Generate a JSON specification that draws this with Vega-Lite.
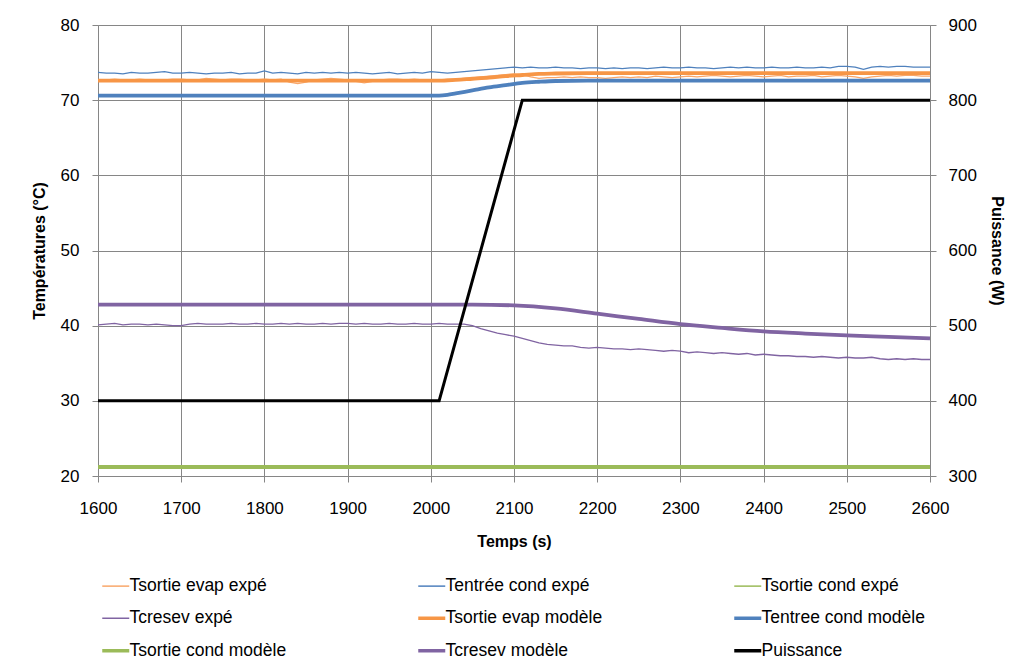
{
  "$schema": "https://vega.github.io/schema/vega-lite/v6.json",
  "autosize": {"type": "none"},
  "width": 832,
  "height": 451,
  "padding": {"left": 98, "top": 25, "right": 86, "bottom": 192},
  "background": "white",
  "config": {
    "font": "Liberation Sans",
    "view": {"stroke": null},
    "axis": {"labelFont": "Liberation Sans", "labelFontSize": 17, "labelColor": "#000000", "titleFont": "Liberation Sans", "titleFontSize": 16, "titleFontWeight": "bold", "titleColor": "#000000", "domainColor": "#868686", "tickColor": "#868686", "gridColor": "#868686", "tickSize": 6}
  },
  "datasets": {
    "expe": [
      {"t":1600,"Tsortie evap expé":72.7,"Tentrée cond expé":73.7,"Tsortie cond expé":21.2,"Tcresev expé":40.1},
      {"t":1610,"Tsortie evap expé":72.7,"Tentrée cond expé":73.6,"Tsortie cond expé":21.2,"Tcresev expé":40.2},
      {"t":1620,"Tsortie evap expé":72.8,"Tentrée cond expé":73.6,"Tsortie cond expé":21.2,"Tcresev expé":40.3},
      {"t":1630,"Tsortie evap expé":72.7,"Tentrée cond expé":73.5,"Tsortie cond expé":21.2,"Tcresev expé":40.1},
      {"t":1640,"Tsortie evap expé":72.7,"Tentrée cond expé":73.7,"Tsortie cond expé":21.2,"Tcresev expé":40.2},
      {"t":1650,"Tsortie evap expé":72.8,"Tentrée cond expé":73.6,"Tsortie cond expé":21.2,"Tcresev expé":40.2},
      {"t":1660,"Tsortie evap expé":72.7,"Tentrée cond expé":73.6,"Tsortie cond expé":21.2,"Tcresev expé":40.1},
      {"t":1670,"Tsortie evap expé":72.6,"Tentrée cond expé":73.7,"Tsortie cond expé":21.2,"Tcresev expé":40.2},
      {"t":1680,"Tsortie evap expé":72.7,"Tentrée cond expé":73.8,"Tsortie cond expé":21.2,"Tcresev expé":40.1},
      {"t":1690,"Tsortie evap expé":72.8,"Tentrée cond expé":73.6,"Tsortie cond expé":21.2,"Tcresev expé":40.0},
      {"t":1700,"Tsortie evap expé":72.8,"Tentrée cond expé":73.6,"Tsortie cond expé":21.2,"Tcresev expé":40.0},
      {"t":1710,"Tsortie evap expé":72.7,"Tentrée cond expé":73.7,"Tsortie cond expé":21.2,"Tcresev expé":40.2},
      {"t":1720,"Tsortie evap expé":72.7,"Tentrée cond expé":73.6,"Tsortie cond expé":21.2,"Tcresev expé":40.3},
      {"t":1730,"Tsortie evap expé":72.9,"Tentrée cond expé":73.5,"Tsortie cond expé":21.2,"Tcresev expé":40.2},
      {"t":1740,"Tsortie evap expé":72.8,"Tentrée cond expé":73.6,"Tsortie cond expé":21.2,"Tcresev expé":40.2},
      {"t":1750,"Tsortie evap expé":72.7,"Tentrée cond expé":73.6,"Tsortie cond expé":21.2,"Tcresev expé":40.2},
      {"t":1760,"Tsortie evap expé":72.8,"Tentrée cond expé":73.7,"Tsortie cond expé":21.2,"Tcresev expé":40.3},
      {"t":1770,"Tsortie evap expé":72.8,"Tentrée cond expé":73.5,"Tsortie cond expé":21.2,"Tcresev expé":40.2},
      {"t":1780,"Tsortie evap expé":72.7,"Tentrée cond expé":73.6,"Tsortie cond expé":21.2,"Tcresev expé":40.2},
      {"t":1790,"Tsortie evap expé":72.7,"Tentrée cond expé":73.6,"Tsortie cond expé":21.2,"Tcresev expé":40.3},
      {"t":1800,"Tsortie evap expé":72.8,"Tentrée cond expé":73.9,"Tsortie cond expé":21.2,"Tcresev expé":40.2},
      {"t":1810,"Tsortie evap expé":72.7,"Tentrée cond expé":73.6,"Tsortie cond expé":21.2,"Tcresev expé":40.2},
      {"t":1820,"Tsortie evap expé":72.8,"Tentrée cond expé":73.7,"Tsortie cond expé":21.2,"Tcresev expé":40.3},
      {"t":1830,"Tsortie evap expé":72.4,"Tentrée cond expé":73.6,"Tsortie cond expé":21.2,"Tcresev expé":40.2},
      {"t":1840,"Tsortie evap expé":72.2,"Tentrée cond expé":73.5,"Tsortie cond expé":21.2,"Tcresev expé":40.3},
      {"t":1850,"Tsortie evap expé":72.4,"Tentrée cond expé":73.7,"Tsortie cond expé":21.2,"Tcresev expé":40.2},
      {"t":1860,"Tsortie evap expé":72.7,"Tentrée cond expé":73.6,"Tsortie cond expé":21.2,"Tcresev expé":40.2},
      {"t":1870,"Tsortie evap expé":72.8,"Tentrée cond expé":73.7,"Tsortie cond expé":21.2,"Tcresev expé":40.3},
      {"t":1880,"Tsortie evap expé":72.9,"Tentrée cond expé":73.6,"Tsortie cond expé":21.2,"Tcresev expé":40.2},
      {"t":1890,"Tsortie evap expé":72.8,"Tentrée cond expé":73.7,"Tsortie cond expé":21.2,"Tcresev expé":40.3},
      {"t":1900,"Tsortie evap expé":72.7,"Tentrée cond expé":73.6,"Tsortie cond expé":21.2,"Tcresev expé":40.3},
      {"t":1910,"Tsortie evap expé":72.5,"Tentrée cond expé":73.7,"Tsortie cond expé":21.2,"Tcresev expé":40.2},
      {"t":1920,"Tsortie evap expé":72.3,"Tentrée cond expé":73.6,"Tsortie cond expé":21.2,"Tcresev expé":40.3},
      {"t":1930,"Tsortie evap expé":72.5,"Tentrée cond expé":73.5,"Tsortie cond expé":21.2,"Tcresev expé":40.2},
      {"t":1940,"Tsortie evap expé":72.7,"Tentrée cond expé":73.6,"Tsortie cond expé":21.2,"Tcresev expé":40.2},
      {"t":1950,"Tsortie evap expé":72.8,"Tentrée cond expé":73.7,"Tsortie cond expé":21.2,"Tcresev expé":40.3},
      {"t":1960,"Tsortie evap expé":72.8,"Tentrée cond expé":73.5,"Tsortie cond expé":21.2,"Tcresev expé":40.2},
      {"t":1970,"Tsortie evap expé":72.7,"Tentrée cond expé":73.6,"Tsortie cond expé":21.2,"Tcresev expé":40.2},
      {"t":1980,"Tsortie evap expé":72.8,"Tentrée cond expé":73.7,"Tsortie cond expé":21.2,"Tcresev expé":40.3},
      {"t":1990,"Tsortie evap expé":72.7,"Tentrée cond expé":73.6,"Tsortie cond expé":21.2,"Tcresev expé":40.2},
      {"t":2000,"Tsortie evap expé":72.7,"Tentrée cond expé":73.8,"Tsortie cond expé":21.2,"Tcresev expé":40.2},
      {"t":2010,"Tsortie evap expé":72.7,"Tentrée cond expé":73.7,"Tsortie cond expé":21.2,"Tcresev expé":40.3},
      {"t":2020,"Tsortie evap expé":72.8,"Tentrée cond expé":73.6,"Tsortie cond expé":21.2,"Tcresev expé":40.2},
      {"t":2030,"Tsortie evap expé":72.8,"Tentrée cond expé":73.7,"Tsortie cond expé":21.2,"Tcresev expé":40.2},
      {"t":2040,"Tsortie evap expé":72.9,"Tentrée cond expé":73.8,"Tsortie cond expé":21.2,"Tcresev expé":40.2},
      {"t":2050,"Tsortie evap expé":73.0,"Tentrée cond expé":73.9,"Tsortie cond expé":21.2,"Tcresev expé":40.0},
      {"t":2060,"Tsortie evap expé":73.1,"Tentrée cond expé":74.0,"Tsortie cond expé":21.2,"Tcresev expé":39.6},
      {"t":2070,"Tsortie evap expé":73.2,"Tentrée cond expé":74.1,"Tsortie cond expé":21.2,"Tcresev expé":39.3},
      {"t":2080,"Tsortie evap expé":73.3,"Tentrée cond expé":74.2,"Tsortie cond expé":21.2,"Tcresev expé":39.0},
      {"t":2090,"Tsortie evap expé":73.4,"Tentrée cond expé":74.3,"Tsortie cond expé":21.2,"Tcresev expé":38.8},
      {"t":2100,"Tsortie evap expé":73.5,"Tentrée cond expé":74.4,"Tsortie cond expé":21.2,"Tcresev expé":38.6},
      {"t":2110,"Tsortie evap expé":73.4,"Tentrée cond expé":74.3,"Tsortie cond expé":21.2,"Tcresev expé":38.3},
      {"t":2120,"Tsortie evap expé":73.1,"Tentrée cond expé":74.4,"Tsortie cond expé":21.2,"Tcresev expé":38.0},
      {"t":2130,"Tsortie evap expé":72.9,"Tentrée cond expé":74.3,"Tsortie cond expé":21.2,"Tcresev expé":37.7},
      {"t":2140,"Tsortie evap expé":73.0,"Tentrée cond expé":74.3,"Tsortie cond expé":21.2,"Tcresev expé":37.5},
      {"t":2150,"Tsortie evap expé":73.0,"Tentrée cond expé":74.4,"Tsortie cond expé":21.2,"Tcresev expé":37.4},
      {"t":2160,"Tsortie evap expé":73.1,"Tentrée cond expé":74.3,"Tsortie cond expé":21.2,"Tcresev expé":37.3},
      {"t":2170,"Tsortie evap expé":73.0,"Tentrée cond expé":74.3,"Tsortie cond expé":21.2,"Tcresev expé":37.3},
      {"t":2180,"Tsortie evap expé":73.1,"Tentrée cond expé":74.2,"Tsortie cond expé":21.2,"Tcresev expé":37.1},
      {"t":2190,"Tsortie evap expé":73.0,"Tentrée cond expé":74.3,"Tsortie cond expé":21.2,"Tcresev expé":37.0},
      {"t":2200,"Tsortie evap expé":73.0,"Tentrée cond expé":74.3,"Tsortie cond expé":21.2,"Tcresev expé":37.1},
      {"t":2210,"Tsortie evap expé":72.9,"Tentrée cond expé":74.2,"Tsortie cond expé":21.3,"Tcresev expé":37.0},
      {"t":2220,"Tsortie evap expé":73.0,"Tentrée cond expé":74.3,"Tsortie cond expé":21.3,"Tcresev expé":36.9},
      {"t":2230,"Tsortie evap expé":73.1,"Tentrée cond expé":74.2,"Tsortie cond expé":21.3,"Tcresev expé":36.9},
      {"t":2240,"Tsortie evap expé":73.0,"Tentrée cond expé":74.3,"Tsortie cond expé":21.3,"Tcresev expé":36.8},
      {"t":2250,"Tsortie evap expé":73.1,"Tentrée cond expé":74.3,"Tsortie cond expé":21.2,"Tcresev expé":36.9},
      {"t":2260,"Tsortie evap expé":73.0,"Tentrée cond expé":74.2,"Tsortie cond expé":21.2,"Tcresev expé":36.8},
      {"t":2270,"Tsortie evap expé":73.2,"Tentrée cond expé":74.3,"Tsortie cond expé":21.2,"Tcresev expé":36.7},
      {"t":2280,"Tsortie evap expé":73.1,"Tentrée cond expé":74.4,"Tsortie cond expé":21.2,"Tcresev expé":36.6},
      {"t":2290,"Tsortie evap expé":73.0,"Tentrée cond expé":74.3,"Tsortie cond expé":21.2,"Tcresev expé":36.7},
      {"t":2300,"Tsortie evap expé":73.1,"Tentrée cond expé":74.3,"Tsortie cond expé":21.2,"Tcresev expé":36.6},
      {"t":2310,"Tsortie evap expé":73.2,"Tentrée cond expé":74.4,"Tsortie cond expé":21.2,"Tcresev expé":36.4},
      {"t":2320,"Tsortie evap expé":73.1,"Tentrée cond expé":74.3,"Tsortie cond expé":21.2,"Tcresev expé":36.5},
      {"t":2330,"Tsortie evap expé":73.2,"Tentrée cond expé":74.3,"Tsortie cond expé":21.2,"Tcresev expé":36.4},
      {"t":2340,"Tsortie evap expé":73.3,"Tentrée cond expé":74.2,"Tsortie cond expé":21.2,"Tcresev expé":36.3},
      {"t":2350,"Tsortie evap expé":73.2,"Tentrée cond expé":74.3,"Tsortie cond expé":21.2,"Tcresev expé":36.4},
      {"t":2360,"Tsortie evap expé":73.1,"Tentrée cond expé":74.4,"Tsortie cond expé":21.2,"Tcresev expé":36.3},
      {"t":2370,"Tsortie evap expé":73.2,"Tentrée cond expé":74.3,"Tsortie cond expé":21.2,"Tcresev expé":36.2},
      {"t":2380,"Tsortie evap expé":73.3,"Tentrée cond expé":74.4,"Tsortie cond expé":21.2,"Tcresev expé":36.3},
      {"t":2390,"Tsortie evap expé":73.2,"Tentrée cond expé":74.3,"Tsortie cond expé":21.2,"Tcresev expé":36.1},
      {"t":2400,"Tsortie evap expé":73.1,"Tentrée cond expé":74.3,"Tsortie cond expé":21.2,"Tcresev expé":36.2},
      {"t":2410,"Tsortie evap expé":73.2,"Tentrée cond expé":74.4,"Tsortie cond expé":21.2,"Tcresev expé":36.1},
      {"t":2420,"Tsortie evap expé":73.3,"Tentrée cond expé":74.3,"Tsortie cond expé":21.2,"Tcresev expé":36.0},
      {"t":2430,"Tsortie evap expé":73.1,"Tentrée cond expé":74.3,"Tsortie cond expé":21.2,"Tcresev expé":36.0},
      {"t":2440,"Tsortie evap expé":73.2,"Tentrée cond expé":74.4,"Tsortie cond expé":21.2,"Tcresev expé":35.9},
      {"t":2450,"Tsortie evap expé":73.2,"Tentrée cond expé":74.3,"Tsortie cond expé":21.2,"Tcresev expé":35.9},
      {"t":2460,"Tsortie evap expé":73.3,"Tentrée cond expé":74.3,"Tsortie cond expé":21.2,"Tcresev expé":35.8},
      {"t":2470,"Tsortie evap expé":73.1,"Tentrée cond expé":74.4,"Tsortie cond expé":21.2,"Tcresev expé":35.9},
      {"t":2480,"Tsortie evap expé":73.2,"Tentrée cond expé":74.3,"Tsortie cond expé":21.2,"Tcresev expé":35.8},
      {"t":2490,"Tsortie evap expé":73.3,"Tentrée cond expé":74.5,"Tsortie cond expé":21.2,"Tcresev expé":35.7},
      {"t":2500,"Tsortie evap expé":73.2,"Tentrée cond expé":74.5,"Tsortie cond expé":21.2,"Tcresev expé":35.8},
      {"t":2510,"Tsortie evap expé":73.1,"Tentrée cond expé":74.4,"Tsortie cond expé":21.2,"Tcresev expé":35.7},
      {"t":2520,"Tsortie evap expé":72.9,"Tentrée cond expé":74.1,"Tsortie cond expé":21.2,"Tcresev expé":35.7},
      {"t":2530,"Tsortie evap expé":73.1,"Tentrée cond expé":74.4,"Tsortie cond expé":21.2,"Tcresev expé":35.8},
      {"t":2540,"Tsortie evap expé":73.2,"Tentrée cond expé":74.5,"Tsortie cond expé":21.2,"Tcresev expé":35.6},
      {"t":2550,"Tsortie evap expé":73.3,"Tentrée cond expé":74.4,"Tsortie cond expé":21.2,"Tcresev expé":35.5},
      {"t":2560,"Tsortie evap expé":73.2,"Tentrée cond expé":74.5,"Tsortie cond expé":21.2,"Tcresev expé":35.6},
      {"t":2570,"Tsortie evap expé":73.3,"Tentrée cond expé":74.5,"Tsortie cond expé":21.2,"Tcresev expé":35.5},
      {"t":2580,"Tsortie evap expé":73.3,"Tentrée cond expé":74.4,"Tsortie cond expé":21.2,"Tcresev expé":35.6},
      {"t":2590,"Tsortie evap expé":73.2,"Tentrée cond expé":74.4,"Tsortie cond expé":21.2,"Tcresev expé":35.5},
      {"t":2600,"Tsortie evap expé":73.2,"Tentrée cond expé":74.4,"Tsortie cond expé":21.2,"Tcresev expé":35.5}
    ],
    "modele": [
      {"t":1600,"serie":"Tsortie evap modèle","v":72.6},
      {"t":2010,"serie":"Tsortie evap modèle","v":72.6},
      {"t":2030,"serie":"Tsortie evap modèle","v":72.7},
      {"t":2050,"serie":"Tsortie evap modèle","v":72.85},
      {"t":2070,"serie":"Tsortie evap modèle","v":73.0},
      {"t":2090,"serie":"Tsortie evap modèle","v":73.2},
      {"t":2110,"serie":"Tsortie evap modèle","v":73.35},
      {"t":2130,"serie":"Tsortie evap modèle","v":73.5},
      {"t":2150,"serie":"Tsortie evap modèle","v":73.55},
      {"t":2200,"serie":"Tsortie evap modèle","v":73.6},
      {"t":2600,"serie":"Tsortie evap modèle","v":73.6},
      {"t":1600,"serie":"Tentree cond modèle","v":70.6},
      {"t":2010,"serie":"Tentree cond modèle","v":70.6},
      {"t":2020,"serie":"Tentree cond modèle","v":70.7},
      {"t":2030,"serie":"Tentree cond modèle","v":70.9},
      {"t":2050,"serie":"Tentree cond modèle","v":71.3},
      {"t":2070,"serie":"Tentree cond modèle","v":71.7},
      {"t":2090,"serie":"Tentree cond modèle","v":72.0},
      {"t":2110,"serie":"Tentree cond modèle","v":72.3},
      {"t":2130,"serie":"Tentree cond modèle","v":72.45},
      {"t":2150,"serie":"Tentree cond modèle","v":72.55},
      {"t":2200,"serie":"Tentree cond modèle","v":72.6},
      {"t":2600,"serie":"Tentree cond modèle","v":72.6},
      {"t":1600,"serie":"Tsortie cond modèle","v":21.2},
      {"t":2600,"serie":"Tsortie cond modèle","v":21.2},
      {"t":1600,"serie":"Tcresev modèle","v":42.8},
      {"t":2050,"serie":"Tcresev modèle","v":42.8},
      {"t":2100,"serie":"Tcresev modèle","v":42.7},
      {"t":2150,"serie":"Tcresev modèle","v":42.3},
      {"t":2200,"serie":"Tcresev modèle","v":41.6},
      {"t":2250,"serie":"Tcresev modèle","v":40.9},
      {"t":2300,"serie":"Tcresev modèle","v":40.2},
      {"t":2350,"serie":"Tcresev modèle","v":39.7},
      {"t":2400,"serie":"Tcresev modèle","v":39.25},
      {"t":2450,"serie":"Tcresev modèle","v":38.95},
      {"t":2500,"serie":"Tcresev modèle","v":38.7},
      {"t":2550,"serie":"Tcresev modèle","v":38.5},
      {"t":2600,"serie":"Tcresev modèle","v":38.3}
    ],
    "puissance": [
      {"t":1600,"serie":"Puissance","p":400},
      {"t":2010,"serie":"Puissance","p":400},
      {"t":2110,"serie":"Puissance","p":800},
      {"t":2600,"serie":"Puissance","p":800}
    ]
  },
  "resolve": {"scale": {"y": "independent"}, "axis": {"y": "independent"}},
  "layer": [
    {
      "encoding": {
        "x": {"field": "t", "type": "quantitative", "scale": {"domain": [1600, 2600], "nice": false}, "axis": {"title": "Temps (s)", "format": "d", "labelFlush": false, "values": [1600,1700,1800,1900,2000,2100,2200,2300,2400,2500,2600], "grid": true, "labelPadding": 18, "titlePadding": 17}},
        "y": {"field": "v", "type": "quantitative", "scale": {"domain": [20, 80], "nice": false}, "axis": {"title": "Températures (°C)", "format": "d", "labelFlush": false, "values": [20,30,40,50,60,70,80], "grid": true, "labelPadding": 13, "titlePadding": 13}},
        "color": {"field": "serie", "type": "nominal", "scale": {"domain": ["Tsortie evap expé","Tentrée cond expé","Tsortie cond expé","Tcresev expé","Tsortie evap modèle","Tentree cond modèle","Tsortie cond modèle","Tcresev modèle","Puissance"], "range": ["#F9A76B","#4F81BD","#9BBB59","#8064A2","#F79646","#4F81BD","#9BBB59","#8064A2","#000000"]},
          "legend": {"title": null, "orient": "none", "direction": "horizontal", "legendX": 9, "legendY": 552, "columns": 3, "symbolType": "stroke", "symbolSize": 729, "labelFontSize": 17.5, "labelFont": "Liberation Sans", "labelColor": "#000000", "labelLimit": 300, "rowPadding": 13.5, "columnPadding": 118, "gridAlign": "all", "labelOffset": 5,
            "encode": {"symbols": {"update": {"strokeWidth": {"signal": "indexof(['Tsortie evap modèle','Tentree cond modèle','Tsortie cond modèle','Tcresev modèle','Puissance'], datum.value) >= 0 ? 3.5 : 1.5"}}}}}}
      },
      "layer": [
        {
          "data": {"name": "expe"},
          "transform": [{"fold": ["Tsortie evap expé","Tentrée cond expé","Tsortie cond expé","Tcresev expé"], "as": ["serie", "v"]}],
          "mark": {"type": "line", "interpolate": "linear", "strokeWidth": 1.3}
        },
        {
          "data": {"name": "modele"},
          "mark": {"type": "line", "interpolate": "monotone", "strokeWidth": 3.8}
        }
      ]
    },
    {
      "data": {"name": "puissance"},
      "mark": {"type": "line", "strokeWidth": 3},
      "encoding": {
        "x": {"field": "t", "type": "quantitative"},
        "y": {"field": "p", "type": "quantitative", "scale": {"domain": [300, 900], "nice": false}, "axis": {"title": "Puissance (W)", "orient": "right", "format": "d", "labelFlush": false, "values": [300,400,500,600,700,800,900], "grid": false, "labelPadding": 12, "titlePadding": 12}},
        "color": {"field": "serie", "type": "nominal"}
      }
    }
  ]
}
